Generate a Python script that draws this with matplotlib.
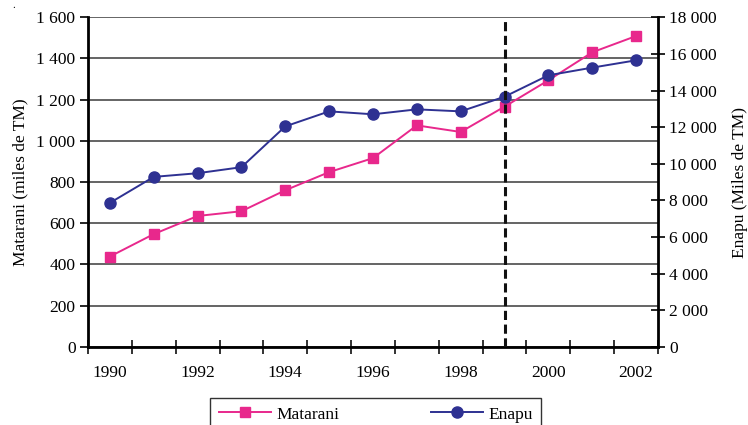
import matplotlib
matplotlib.use("Agg")
import matplotlib.pyplot as plt
from matplotlib.ticker import FixedLocator, FuncFormatter
import numpy as np

years = [1990, 1991, 1992, 1993, 1994, 1995, 1996, 1997, 1998, 1999, 2000, 2001, 2002]
matarani = [438, 547, 635, 658, 760, 848, 916, 1075, 1043, 1166, 1294, 1430, 1509]
enapu = [7860, 9280, 9480, 9810, 12040, 12860, 12700, 12970, 12860, 13660, 14830, 15250, 15650]
left_ticks = [0, 200, 400, 600, 800, 1000, 1200, 1400, 1600]
right_ticks = [0, 2000, 4000, 6000, 8000, 10000, 12000, 14000, 16000, 18000]
marker_year = 1999

plt.rcParams['font.family'] = ['Liberation Serif', 'DejaVu Serif']
FS = 12.5
pink = '#e8288c'
blue = '#2e3192'

fig = plt.figure(figsize=(7.48, 4.25), dpi=100)
ax = fig.add_axes([88/748, 1-346.7/425, (658-88)/748, (346.7-17.3)/425])
x = np.arange(len(years))

def fmt(v, pos=None):
    return f"{int(v):,}".replace(",", " ")

ax.set_xlim(-0.5, len(years) - 0.5)
ax.set_ylim(0, 1600)
ax.yaxis.set_major_locator(FixedLocator(left_ticks))
ax.yaxis.set_major_formatter(FuncFormatter(fmt))
for v in left_ticks:
    ax.axhline(v, color='#4a4a4a', lw=1.2, zorder=1)

ln1, = ax.plot(x, matarani, color=pink, lw=1.4, marker='s', markersize=7,
               markerfacecolor=pink, markeredgecolor=pink, label='Matarani', zorder=3)

ax.set_xticks(x[::2])
ax.set_xticklabels([str(y) for y in years[::2]], fontsize=FS)
ax.set_xticks(np.arange(-0.5, len(years)), minor=True)
ax.tick_params(axis='x', which='major', length=0, pad=13)
ax.tick_params(axis='x', which='minor', direction='inout', length=10, width=1.3, color='#222222')
ax.tick_params(axis='y', direction='out', length=6, width=1.2, labelsize=FS, pad=3)

for s in ['top', 'right']:
    ax.spines[s].set_visible(False)
ax.spines['left'].set_linewidth(2)
ax.spines['bottom'].set_linewidth(2)
ax.set_ylabel('Matarani (miles de TM)', fontsize=FS, labelpad=6)

ax2 = ax.twinx()
ax2.set_ylim(0, 18000)
ax2.yaxis.set_major_locator(FixedLocator(right_ticks))
ax2.yaxis.set_major_formatter(FuncFormatter(fmt))
ln2, = ax2.plot(x, enapu, color=blue, lw=1.4, marker='o', markersize=8,
                markerfacecolor=blue, markeredgecolor=blue, label='Enapu', zorder=3)
ax2.tick_params(axis='y', direction='inout', length=10, width=1.2, labelsize=FS, pad=3)
for s in ['top', 'left', 'bottom']:
    ax2.spines[s].set_visible(False)
ax2.spines['right'].set_linewidth(2)
ax2.set_ylabel('Enapu (Miles de TM)', fontsize=FS, rotation=90, labelpad=11)

ax2.axvline(years.index(marker_year), color='#111111', lw=2.2, ls=(0, (3, 1.5)), zorder=5)

leg = fig.legend(handles=[ln1, ln2], loc='upper left', bbox_to_anchor=(210/748, 1-397.7/425),
                 ncol=2, frameon=True, fancybox=False, fontsize=FS, handlelength=3.0,
                 columnspacing=5.3, borderpad=0.5, handletextpad=0.3, borderaxespad=0)
leg.get_frame().set_edgecolor('#000000')
leg.get_frame().set_linewidth(1.0)

fig.text(12/748, 1-8/425, '.', fontsize=8)

fig.savefig('out.png', dpi=100)
